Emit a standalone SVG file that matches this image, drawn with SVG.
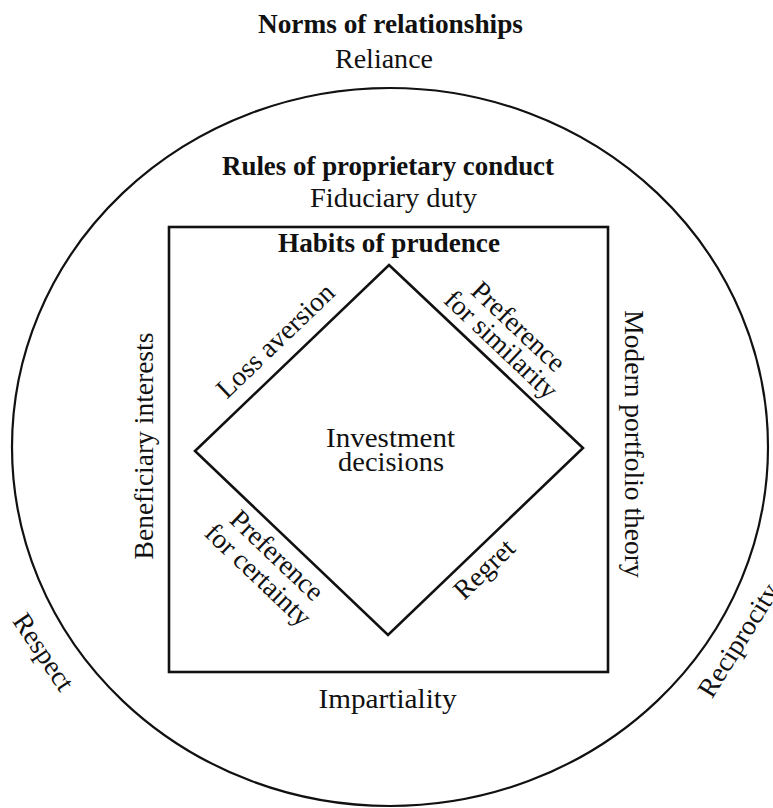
<svg xmlns="http://www.w3.org/2000/svg" width="773" height="808" viewBox="0 0 773 808">
  <style>
    text { font-family: "Liberation Serif", "Times New Roman", serif; fill: #111; }
    .h { font-weight: bold; font-size: 27px; text-anchor: middle; }
    .r { font-size: 27.5px; text-anchor: middle; }
    .shape { fill: none; stroke: #111; }
  </style>

  <!-- Outer ring: norms of relationships -->
  <g id="norms">
    <ellipse class="shape" cx="390" cy="447" rx="378" ry="359" stroke-width="2.2"/>
    <text class="h" x="390.5" y="33" textLength="265" lengthAdjust="spacingAndGlyphs">Norms of relationships</text>
    <text class="r" x="384" y="68" textLength="98" lengthAdjust="spacingAndGlyphs">Reliance</text>
    <text class="r" transform="translate(36,657) rotate(56)">Respect</text>
    <text class="r" transform="translate(746,645) rotate(-58)">Reciprocity</text>
  </g>

  <!-- Middle band: rules of proprietary conduct -->
  <g id="rules">
    <text class="h" x="388" y="175" textLength="332" lengthAdjust="spacingAndGlyphs">Rules of proprietary conduct</text>
    <text class="r" x="393.5" y="207" textLength="167" lengthAdjust="spacingAndGlyphs">Fiduciary duty</text>
    <text class="r" transform="translate(153,446) rotate(-90)">Beneficiary interests</text>
    <text class="r" transform="translate(625,444) rotate(90)">Modern portfolio theory</text>
    <text class="r" x="387.5" y="708" textLength="138" lengthAdjust="spacingAndGlyphs">Impartiality</text>
  </g>

  <!-- Box: habits of prudence -->
  <g id="prudence">
    <rect class="shape" x="169" y="227" width="439" height="445" stroke-width="2.6"/>
    <text class="h" x="389" y="252" textLength="222" lengthAdjust="spacingAndGlyphs">Habits of prudence</text>
    <text class="r" transform="translate(281.6,347.2) rotate(-43.8)">Loss aversion</text>
    <text class="r" transform="translate(495.1,351.3) rotate(43.3)"><tspan x="0" y="-25">Preference</tspan><tspan x="0" y="0">for similarity</tspan></text>
    <text class="r" transform="translate(270.7,561.9) rotate(43.6)"><tspan x="0" y="0">Preference</tspan><tspan x="0" y="27">for certainty</tspan></text>
    <text class="r" transform="translate(490.4,575.6) rotate(-43.8)">Regret</text>
  </g>

  <!-- Diamond: investment decisions -->
  <g id="decisions">
    <polygon class="shape" points="389,265 583,448 388,635 195,451" stroke-width="2.6" stroke-linejoin="miter"/>
    <text class="r" x="390.5" y="447" textLength="129" lengthAdjust="spacingAndGlyphs">Investment</text>
    <text class="r" x="391" y="471" textLength="106" lengthAdjust="spacingAndGlyphs">decisions</text>
  </g>

  <g id="connectors"/>
</svg>
